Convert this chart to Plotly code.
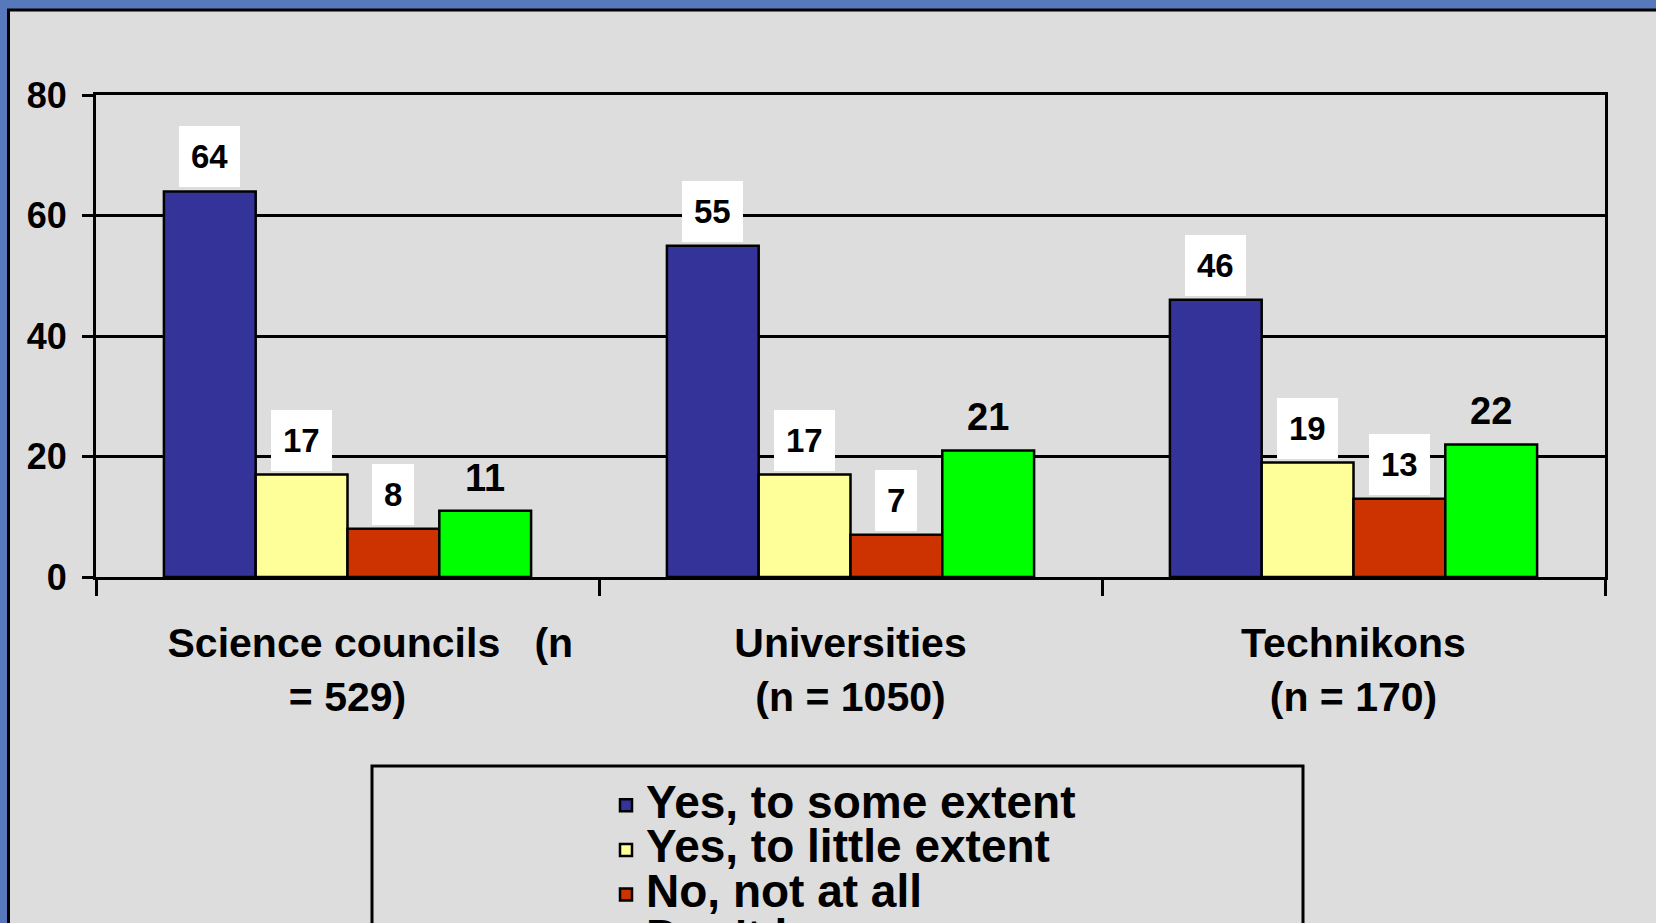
import plotly.graph_objects as go

# ---- data ----
NB = "\u00a0"
categories = [NB * 4 + "Science councils" + NB * 3 + "(n<br>= 529)",
              "Universities<br>(n = 1050)",
              "Technikons<br>(n = 170)"]
series_names = ["Yes, to some extent", "Yes, to little extent", "No, not at all", "Don't know"]
yes_some_extent = [64, 55, 46]
yes_little_extent = [17, 17, 19]
no_not_at_all = [8, 7, 13]
dont_know = [11, 21, 22]
y_tick_values = [0, 20, 40, 60, 80]

series_values = [yes_some_extent, yes_little_extent, no_not_at_all, dont_know]
colors = ["#333399", "#FFFF99", "#CC3300", "#00FF00"]

# ---- layout geometry ----
W, H = 1656, 923
L, R, T, B = 96, 1605, 95, 577
BARGAP = 0.27
FONT = "Liberation Sans, Arial, sans-serif"


def px_x(p):
    return (p - L) / (R - L)


def px_y(p):
    return (B - p) / (B - T)


fig = go.Figure()
for name, vals, col in zip(series_names, series_values, colors):
    fig.add_trace(go.Bar(
        x=categories, y=vals, name=f'<span style="font-size:46px"><b>{name}</b></span>',
        marker=dict(color=col, line=dict(color="black", width=2.5)),
        hoverinfo="skip",
    ))

# data labels positioned on the category scale
n = len(series_values)
group_w = 1 - BARGAP
bar_w = group_w / n
annotations = []
for si, vals in enumerate(series_values):
    off = -group_w / 2 + (si + 0.5) * bar_w
    for ci, v in enumerate(vals):
        boxed = si < 3
        annotations.append(dict(
            x=ci + off, y=v, xref="x", yref="y",
            text=f"<b>{v}</b>", showarrow=False,
            xanchor="center", yanchor="bottom",
            yshift=4 if boxed else 11,
            bgcolor="white" if boxed else "rgba(0,0,0,0)",
            borderpad=12 if boxed else 1, borderwidth=0,
            font=dict(family=FONT, size=33 if boxed else 38, color="black"),
        ))

shapes = [
    # outer frame
    dict(type="rect", xref="paper", yref="paper",
         x0=px_x(8.5), x1=px_x(1720), y0=px_y(10), y1=px_y(1000),
         line=dict(color="black", width=3), fillcolor="#DDDDDD", layer="below"),
    # legend box
    dict(type="rect", xref="paper", yref="paper",
         x0=px_x(372), x1=px_x(1303), y0=px_y(766), y1=px_y(1000),
         line=dict(color="black", width=3), fillcolor="#DDDDDD", layer="below"),
]

fig.update_layout(
    width=W, height=H,
    margin=dict(l=L, r=W - R, t=T, b=H - B, autoexpand=False),
    paper_bgcolor="#5878BC", plot_bgcolor="#DDDDDD",
    barmode="group", bargap=BARGAP, bargroupgap=0,
    showlegend=True,
    legend=dict(x=px_x(606), y=px_y(778), xanchor="left", yanchor="top",
                font=dict(family=FONT, size=32, color="black"),
                bgcolor="rgba(0,0,0,0)", borderwidth=0, traceorder="normal"),
    annotations=annotations, shapes=shapes,
    font=dict(family=FONT, color="black"),
)
fig.update_xaxes(
    type="category", tickson="boundaries", ticks="outside", ticklen=16, tickwidth=3,
    tickcolor="black", showline=True, linewidth=3, linecolor="black", mirror=True,
    tickfont=dict(family=FONT, size=41, color="black", weight="bold"),
    ticklabelstandoff=28, showgrid=False,
)
fig.update_yaxes(
    range=[0, 80], tickvals=y_tick_values, ticks="outside", ticklen=11, tickwidth=3,
    tickcolor="black", showline=True, linewidth=3, linecolor="black", mirror=True,
    showgrid=True, gridcolor="black", gridwidth=3, zeroline=False,
    tickfont=dict(family=FONT, size=36, color="black", weight="bold"),
    ticklabelstandoff=8,
)
fig.write_html("out.html", config={"displayModeBar": False},
               post_script="document.body.style.margin='0';document.body.style.overflow='hidden';")
